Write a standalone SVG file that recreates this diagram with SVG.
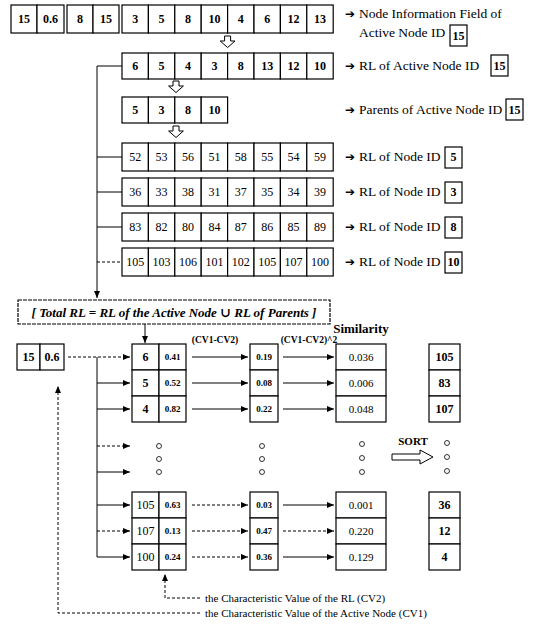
<svg xmlns="http://www.w3.org/2000/svg" width="539" height="624" viewBox="0 0 539 624">
<style>
.c{fill:#fff;stroke:#000;stroke-width:1.2}
.t{font-family:"Liberation Serif","Times New Roman","DejaVu Serif",serif;fill:#000;text-anchor:middle}
.n{font-size:12px}
.b{font-weight:bold}
.s{font-size:9px;font-weight:bold}
.m{font-size:11px}
.lab{font-family:"Liberation Serif","Times New Roman",serif;font-size:13.5px;fill:#000}
.ar{font-family:"DejaVu Sans",sans-serif;font-size:12px;fill:#000}
.ln{fill:none;stroke:#000;stroke-width:1}
.d{stroke-dasharray:3 2}
.ha{fill:#fff;stroke:#000;stroke-width:1}
.dot{fill:#fff;stroke:#000;stroke-width:0.8}
.cv{font-family:"Liberation Serif","Times New Roman",serif;font-size:11px;fill:#000}
</style>
<defs>
<marker id="ah" viewBox="0 0 7 6" refX="7" refY="3" markerWidth="7" markerHeight="6" markerUnits="userSpaceOnUse" orient="auto"><path d="M0,0 L7,3 L0,6 Z" fill="#000"/></marker>
</defs>

<!-- Row 1: node information field -->
<g id="node-info" class="t n b">
<rect class="c" x="11" y="5" width="26" height="28"/><rect class="c" x="37" y="5" width="27" height="28"/>
<text x="24" y="23">15</text><text x="50.5" y="23">0.6</text>
<rect class="c" x="67" y="5" width="26" height="28"/><rect class="c" x="93" y="5" width="26" height="28"/>
<text x="80" y="23">8</text><text x="106" y="23">15</text>
<rect class="c" x="122" y="5" width="26.4" height="28"/><rect class="c" x="148.4" y="5" width="26.4" height="28"/><rect class="c" x="174.8" y="5" width="26.4" height="28"/><rect class="c" x="201.2" y="5" width="26.4" height="28"/><rect class="c" x="227.6" y="5" width="26.4" height="28"/><rect class="c" x="254" y="5" width="26.4" height="28"/><rect class="c" x="280.4" y="5" width="26.4" height="28"/><rect class="c" x="306.8" y="5" width="26.4" height="28"/>
<text x="135.2" y="23">3</text><text x="161.6" y="23">5</text><text x="188" y="23">8</text><text x="214.4" y="23">10</text><text x="240.8" y="23">4</text><text x="267.2" y="23">6</text><text x="293.6" y="23">12</text><text x="320" y="23">13</text>
</g>
<g id="label-info">
<text class="ar" x="345" y="18">➔</text><text class="lab" x="359" y="18">Node Information Field of</text>
<text class="lab" x="359" y="37">Active Node ID</text>
<rect class="c" x="450" y="25" width="17" height="21"/><text class="t n b" x="458.5" y="40">15</text>
</g>

<g id="arrow1"><path class="ha" d="M224.6,36 H230.6 V41 H235 L227.6,47.5 L220.2,41 H224.6 Z"/></g>

<!-- Row 2: RL of active node -->
<g id="rl-active" class="t n b">
<rect class="c" x="122" y="53" width="26.4" height="26"/><rect class="c" x="148.4" y="53" width="26.4" height="26"/><rect class="c" x="174.8" y="53" width="26.4" height="26"/><rect class="c" x="201.2" y="53" width="26.4" height="26"/><rect class="c" x="227.6" y="53" width="26.4" height="26"/><rect class="c" x="254" y="53" width="26.4" height="26"/><rect class="c" x="280.4" y="53" width="26.4" height="26"/><rect class="c" x="306.8" y="53" width="26.4" height="26"/>
<text x="135.2" y="70">6</text><text x="161.6" y="70">5</text><text x="188" y="70">4</text><text x="214.4" y="70">3</text><text x="240.8" y="70">8</text><text x="267.2" y="70">13</text><text x="293.6" y="70">12</text><text x="320" y="70">10</text>
</g>
<g id="label-rl-active">
<text class="ar" x="345" y="70">➔</text><text class="lab" x="359" y="70">RL of Active Node ID</text>
<rect class="c" x="491" y="55" width="17" height="21"/><text class="t n b" x="499.5" y="70">15</text>
</g>

<g id="arrow2"><path class="ha" d="M173,81 H179 V86 H183.4 L176,92.5 L168.6,86 H173 Z"/></g>

<!-- Row 3: parents -->
<g id="parents" class="t n b">
<rect class="c" x="122" y="97" width="26.4" height="26"/><rect class="c" x="148.4" y="97" width="26.4" height="26"/><rect class="c" x="174.8" y="97" width="26.4" height="26"/><rect class="c" x="201.2" y="97" width="26.4" height="26"/>
<text x="135.2" y="114">5</text><text x="161.6" y="114">3</text><text x="188" y="114">8</text><text x="214.4" y="114">10</text>
</g>
<g id="label-parents">
<text class="ar" x="345" y="114">➔</text><text class="lab" x="359" y="114">Parents of Active Node ID</text>
<rect class="c" x="506" y="99" width="17" height="21"/><text class="t n b" x="514.5" y="114">15</text>
</g>

<g id="arrow3"><path class="ha" d="M173,126 H179 V131 H183.4 L176,137.5 L168.6,131 H173 Z"/></g>

<!-- RL of parents -->
<g id="rl-5" class="t n">
<rect class="c" x="122" y="143" width="26.4" height="28"/><rect class="c" x="148.4" y="143" width="26.4" height="28"/><rect class="c" x="174.8" y="143" width="26.4" height="28"/><rect class="c" x="201.2" y="143" width="26.4" height="28"/><rect class="c" x="227.6" y="143" width="26.4" height="28"/><rect class="c" x="254" y="143" width="26.4" height="28"/><rect class="c" x="280.4" y="143" width="26.4" height="28"/><rect class="c" x="306.8" y="143" width="26.4" height="28"/>
<text x="135.2" y="161">52</text><text x="161.6" y="161">53</text><text x="188" y="161">56</text><text x="214.4" y="161">51</text><text x="240.8" y="161">58</text><text x="267.2" y="161">55</text><text x="293.6" y="161">54</text><text x="320" y="161">59</text>
</g>
<g id="label-rl-5">
<text class="ar" x="345" y="161">➔</text><text class="lab" x="359" y="161">RL of Node ID</text>
<rect class="c" x="445" y="147" width="17" height="21"/><text class="t n b" x="453.5" y="161">5</text>
</g>
<g id="rl-3" class="t n">
<rect class="c" x="122" y="178" width="26.4" height="28"/><rect class="c" x="148.4" y="178" width="26.4" height="28"/><rect class="c" x="174.8" y="178" width="26.4" height="28"/><rect class="c" x="201.2" y="178" width="26.4" height="28"/><rect class="c" x="227.6" y="178" width="26.4" height="28"/><rect class="c" x="254" y="178" width="26.4" height="28"/><rect class="c" x="280.4" y="178" width="26.4" height="28"/><rect class="c" x="306.8" y="178" width="26.4" height="28"/>
<text x="135.2" y="196">36</text><text x="161.6" y="196">33</text><text x="188" y="196">38</text><text x="214.4" y="196">31</text><text x="240.8" y="196">37</text><text x="267.2" y="196">35</text><text x="293.6" y="196">34</text><text x="320" y="196">39</text>
</g>
<g id="label-rl-3">
<text class="ar" x="345" y="196">➔</text><text class="lab" x="359" y="196">RL of Node ID</text>
<rect class="c" x="445" y="182" width="17" height="21"/><text class="t n b" x="453.5" y="196">3</text>
</g>
<g id="rl-8" class="t n">
<rect class="c" x="122" y="213" width="26.4" height="28"/><rect class="c" x="148.4" y="213" width="26.4" height="28"/><rect class="c" x="174.8" y="213" width="26.4" height="28"/><rect class="c" x="201.2" y="213" width="26.4" height="28"/><rect class="c" x="227.6" y="213" width="26.4" height="28"/><rect class="c" x="254" y="213" width="26.4" height="28"/><rect class="c" x="280.4" y="213" width="26.4" height="28"/><rect class="c" x="306.8" y="213" width="26.4" height="28"/>
<text x="135.2" y="231">83</text><text x="161.6" y="231">82</text><text x="188" y="231">80</text><text x="214.4" y="231">84</text><text x="240.8" y="231">87</text><text x="267.2" y="231">86</text><text x="293.6" y="231">85</text><text x="320" y="231">89</text>
</g>
<g id="label-rl-8">
<text class="ar" x="345" y="231">➔</text><text class="lab" x="359" y="231">RL of Node ID</text>
<rect class="c" x="445" y="217" width="17" height="21"/><text class="t n b" x="453.5" y="231">8</text>
</g>
<g id="rl-10" class="t n">
<rect class="c" x="122" y="248" width="26.4" height="28"/><rect class="c" x="148.4" y="248" width="26.4" height="28"/><rect class="c" x="174.8" y="248" width="26.4" height="28"/><rect class="c" x="201.2" y="248" width="26.4" height="28"/><rect class="c" x="227.6" y="248" width="26.4" height="28"/><rect class="c" x="254" y="248" width="26.4" height="28"/><rect class="c" x="280.4" y="248" width="26.4" height="28"/><rect class="c" x="306.8" y="248" width="26.4" height="28"/>
<text x="135.2" y="266">105</text><text x="161.6" y="266">103</text><text x="188" y="266">106</text><text x="214.4" y="266">101</text><text x="240.8" y="266">102</text><text x="267.2" y="266">105</text><text x="293.6" y="266">107</text><text x="320" y="266">100</text>
</g>
<g id="label-rl-10">
<text class="ar" x="345" y="266">➔</text><text class="lab" x="359" y="266">RL of Node ID</text>
<rect class="c" x="445" y="252" width="17" height="21"/><text class="t n b" x="453.5" y="266">10</text>
</g>

<!-- Total RL -->
<g id="total-rl">
<rect class="c" x="18" y="300" width="312" height="24" stroke-dasharray="4 1"/>
<text class="t b" x="174" y="317" font-size="13" font-style="italic">[ Total RL =  RL of the Active Node  ∪ RL of Parents ]</text>
</g>

<!-- Active node -->
<g id="active-node" class="t n b">
<rect class="c" x="17" y="344" width="23" height="26"/><rect class="c" x="40" y="344" width="24" height="26"/>
<text x="28.5" y="361">15</text><text x="52" y="361">0.6</text>
</g>

<!-- Column A -->
<g id="col-rl" class="t">
<rect class="c" x="132" y="344" width="27" height="26"/><rect class="c" x="159" y="344" width="27" height="26"/>
<rect class="c" x="132" y="370" width="27" height="26"/><rect class="c" x="159" y="370" width="27" height="26"/>
<rect class="c" x="132" y="396" width="27" height="26"/><rect class="c" x="159" y="396" width="27" height="26"/>
<text class="n b" x="145.5" y="361">6</text><text class="s" x="172.5" y="360">0.41</text>
<text class="n b" x="145.5" y="387">5</text><text class="s" x="172.5" y="386">0.52</text>
<text class="n b" x="145.5" y="413">4</text><text class="s" x="172.5" y="412">0.82</text>
<rect class="c" x="132" y="492" width="27" height="26"/><rect class="c" x="159" y="492" width="27" height="26"/>
<rect class="c" x="132" y="518" width="27" height="26"/><rect class="c" x="159" y="518" width="27" height="26"/>
<rect class="c" x="132" y="544" width="27" height="26"/><rect class="c" x="159" y="544" width="27" height="26"/>
<text class="n" x="145.5" y="509">105</text><text class="s" x="172.5" y="508">0.63</text>
<text class="n" x="145.5" y="535">107</text><text class="s" x="172.5" y="534">0.13</text>
<text class="n" x="145.5" y="561">100</text><text class="s" x="172.5" y="560">0.24</text>
<circle class="dot" cx="159" cy="446" r="2.5"/><circle class="dot" cx="159" cy="459" r="2.5"/><circle class="dot" cx="159" cy="472" r="2.5"/>
</g>

<!-- Column B -->
<g id="col-diff" class="t s">
<rect class="c" x="250" y="344" width="28" height="26"/><rect class="c" x="250" y="370" width="28" height="26"/><rect class="c" x="250" y="396" width="28" height="26"/>
<text x="264" y="360">0.19</text><text x="264" y="386">0.08</text><text x="264" y="412">0.22</text>
<rect class="c" x="250" y="492" width="28" height="26"/><rect class="c" x="250" y="518" width="28" height="26"/><rect class="c" x="250" y="544" width="28" height="26"/>
<text x="264" y="508">0.03</text><text x="264" y="534">0.47</text><text x="264" y="560">0.36</text>
<circle class="dot" cx="262" cy="446" r="2.5"/><circle class="dot" cx="262" cy="459" r="2.5"/><circle class="dot" cx="262" cy="472" r="2.5"/>
</g>

<!-- Column C -->
<g id="col-sim" class="t m">
<text class="b" x="361" y="333" font-size="13">Similarity</text>
<rect class="c" x="336" y="344" width="50" height="26"/><rect class="c" x="336" y="370" width="50" height="26"/><rect class="c" x="336" y="396" width="50" height="26"/>
<text x="361" y="361">0.036</text><text x="361" y="387">0.006</text><text x="361" y="413">0.048</text>
<rect class="c" x="336" y="492" width="50" height="26"/><rect class="c" x="336" y="518" width="50" height="26"/><rect class="c" x="336" y="544" width="50" height="26"/>
<text x="361" y="509">0.001</text><text x="361" y="535">0.220</text><text x="361" y="561">0.129</text>
<circle class="dot" cx="362" cy="444" r="2.5"/><circle class="dot" cx="362" cy="458" r="2.5"/><circle class="dot" cx="362" cy="472" r="2.5"/>
</g>

<!-- Sort -->
<g id="sort">
<text class="t b" x="413" y="445" font-size="11">SORT</text>
<path class="ha" d="M392,454 H420 V450 L433,457 L420,464 V460 H392 Z"/>
</g>

<!-- Column D -->
<g id="col-sorted" class="t n b">
<rect class="c" x="429" y="344" width="31" height="26"/><rect class="c" x="429" y="370" width="31" height="26"/><rect class="c" x="429" y="396" width="31" height="26"/>
<text x="444.5" y="361">105</text><text x="444.5" y="387">83</text><text x="444.5" y="413">107</text>
<rect class="c" x="429" y="492" width="31" height="26"/><rect class="c" x="429" y="518" width="31" height="26"/><rect class="c" x="429" y="544" width="31" height="26"/>
<text x="444.5" y="509">36</text><text x="444.5" y="535">12</text><text x="444.5" y="561">4</text>
<circle class="dot" cx="447" cy="443" r="2.5"/><circle class="dot" cx="447" cy="457" r="2.5"/><circle class="dot" cx="447" cy="471" r="2.5"/>
</g>

<!-- Annotations -->
<g id="annotations">
<text class="t b" x="215" y="343" font-size="9.5">(CV1-CV2)</text>
<text class="t b" x="309" y="343" font-size="9.5">(CV1-CV2)^2</text>
<text class="cv" x="205" y="602">the Characteristic Value of the RL (CV2)</text>
<text class="cv" x="205" y="617">the Characteristic Value of the Active Node (CV1)</text>
</g>

<g id="connectors">
<path class="ln" d="M122,66 H97 V298" marker-end="url(#ah)"/>
<path class="ln" d="M97,157 H122"/>
<path class="ln" d="M97,192 H122"/>
<path class="ln" d="M97,227 H122"/>
<path class="ln d" d="M97,262 H122"/>
<path class="ln" d="M145,324 V343" marker-end="url(#ah)"/>
<path class="ln d" d="M68,357 H130" marker-end="url(#ah)"/>
<path class="ln" d="M97,357 V557"/>
<path class="ln" d="M97,383 H130" marker-end="url(#ah)"/>
<path class="ln" d="M97,409 H130" marker-end="url(#ah)"/>
<path class="ln d" d="M97,446 H130" marker-end="url(#ah)"/>
<path class="ln" d="M97,472 H130" marker-end="url(#ah)"/>
<path class="ln" d="M97,505 H130" marker-end="url(#ah)"/>
<path class="ln d" d="M97,531 H130" marker-end="url(#ah)"/>
<path class="ln" d="M97,557 H130" marker-end="url(#ah)"/>
<path class="ln" d="M192,357 H248" marker-end="url(#ah)"/>
<path class="ln" d="M192,383 H248" marker-end="url(#ah)"/>
<path class="ln" d="M192,409 H248" marker-end="url(#ah)"/>
<path class="ln d" d="M192,505 H248" marker-end="url(#ah)"/>
<path class="ln d" d="M192,531 H248" marker-end="url(#ah)"/>
<path class="ln d" d="M192,557 H248" marker-end="url(#ah)"/>
<path class="ln" d="M283,357 H334" marker-end="url(#ah)"/>
<path class="ln" d="M283,383 H334" marker-end="url(#ah)"/>
<path class="ln" d="M283,409 H334" marker-end="url(#ah)"/>
<path class="ln" d="M283,505 H334" marker-end="url(#ah)"/>
<path class="ln d" d="M283,531 H334" marker-end="url(#ah)"/>
<path class="ln" d="M283,557 H334" marker-end="url(#ah)"/>
<path class="ln d" d="M200,598 H165 V574" marker-end="url(#ah)"/>
<path class="ln d" d="M200,613 H58 V386" marker-end="url(#ah)"/>
</g>
</svg>
